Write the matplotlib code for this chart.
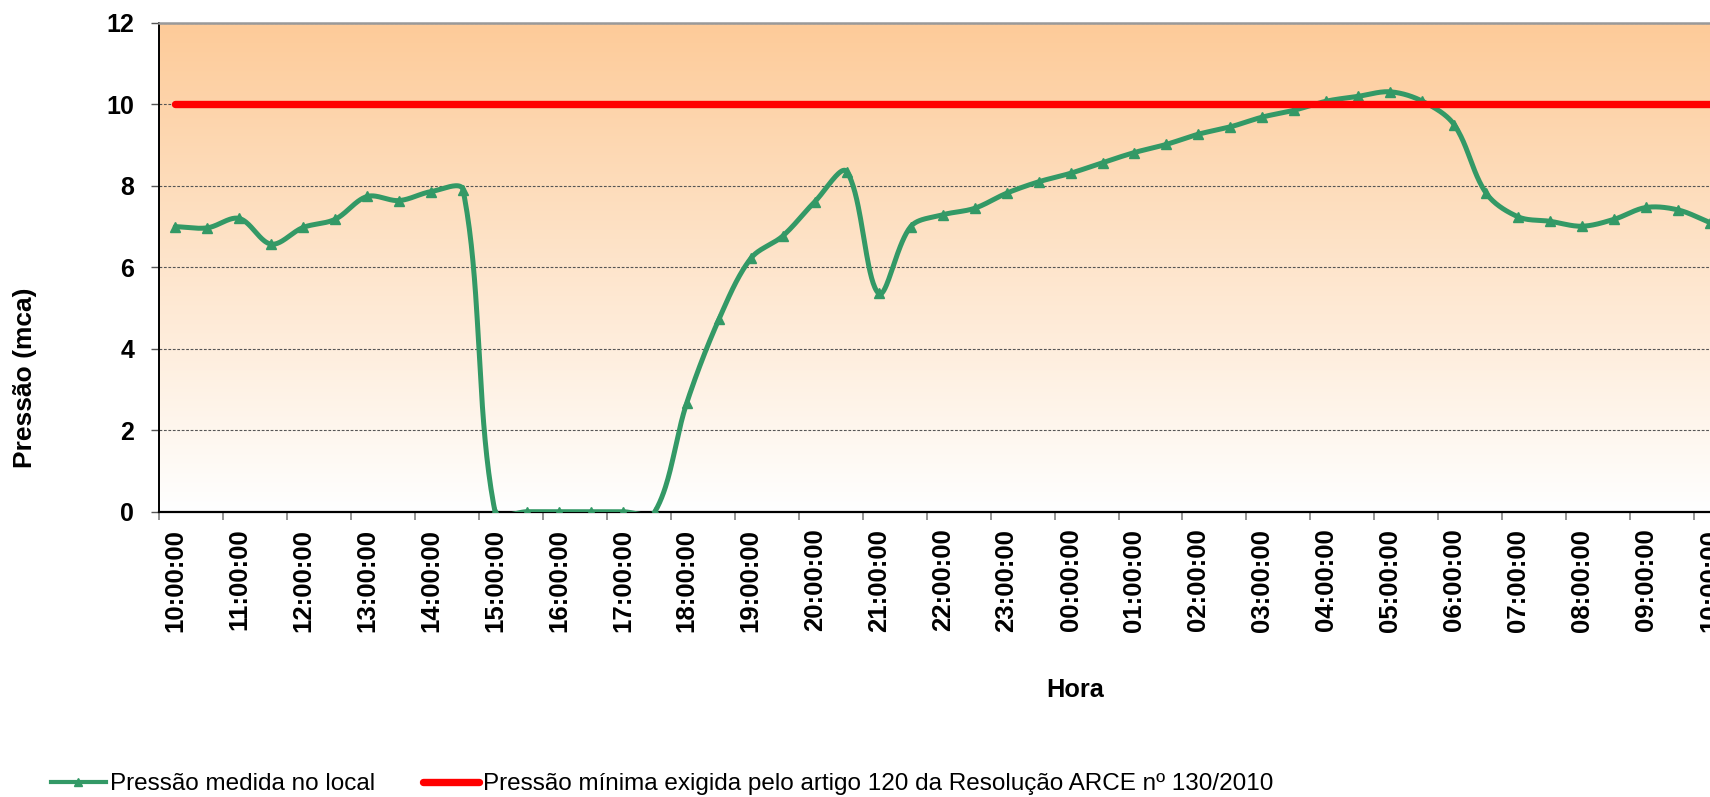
import numpy as np
import matplotlib
matplotlib.use("Agg")
import matplotlib.pyplot as plt
from matplotlib.lines import Line2D

# ---------------- data ----------------
hour_labels = ["10:00:00", "11:00:00", "12:00:00", "13:00:00", "14:00:00",
               "15:00:00", "16:00:00", "17:00:00", "18:00:00", "19:00:00",
               "20:00:00", "21:00:00", "22:00:00", "23:00:00", "00:00:00",
               "01:00:00", "02:00:00", "03:00:00", "04:00:00", "05:00:00",
               "06:00:00", "07:00:00", "08:00:00", "09:00:00", "10:00:00"]

# measured pressure every 30 minutes (mca)
pressao = [7.00, 6.97, 7.20, 6.57, 6.98, 7.18, 7.74, 7.64, 7.86, 7.90,
           0.00, 0.00, 0.00, 0.00, 0.00, 0.00,
           2.68, 4.72, 6.22, 6.77, 7.61, 8.35, 5.36, 7.00, 7.29, 7.45,
           7.82, 8.10, 8.31, 8.57, 8.82, 9.02, 9.27, 9.45, 9.69, 9.86,
           10.08, 10.20, 10.31, 10.08, 9.50, 7.82,
           7.24, 7.13, 7.01, 7.18, 7.47, 7.41, 7.10]

pressao_minima = 10.0
y_ticks = [0, 2, 4, 6, 8, 10, 12]

label_medida = "Pressão medida no local"
label_minima = "Pressão mínima exigida pelo artigo 120 da Resolução ARCE nº 130/2010"

# ---------------- style ----------------
GREEN = "#339966"
RED = "#FF0000"
FONT = "Liberation Sans"
plt.rcParams["font.family"] = [FONT, "DejaVu Sans"]

W, H = 1710, 797
fig = plt.figure(figsize=(W / 100, H / 100), dpi=100)
ax_left, ax_right = 159.3, 1726.0
ax_top, ax_bot = 23.0, 511.7
ax = fig.add_axes([ax_left / W, 1 - ax_bot / H, (ax_right - ax_left) / W, (ax_bot - ax_top) / H])

n = len(pressao)
x = np.arange(n)
ax.set_xlim(-0.5, n - 0.5)
ax.set_ylim(0, 12)

# gradient background
grad = np.linspace(0, 1, 256).reshape(-1, 1)
top_c = np.array([253, 203, 153]) / 255.0
bot_c = np.array([255, 255, 255]) / 255.0
img = bot_c[None, None, :] * (1 - grad[:, :, None]) + top_c[None, None, :] * grad[:, :, None]
ax.imshow(img, extent=[-0.5, n - 0.5, 0, 12], origin="lower", aspect="auto", zorder=0)

# grid
ax.set_yticks(y_ticks)
ax.yaxis.grid(True, linestyle=(0, (2.5, 1.5)), color="#555555", linewidth=0.8, zorder=1)
ax.set_axisbelow(True)

# smooth curve (Excel-like Bezier smoothing computed in display space)
pts = ax.transData.transform(np.column_stack([x, pressao]))
curve = []
for i in range(n - 1):
    p0 = pts[i - 1] if i > 0 else pts[i]
    p1 = pts[i]
    p2 = pts[i + 1]
    p3 = pts[i + 2] if i + 2 < n else pts[i + 1]
    d01 = np.hypot(*(p1 - p0))
    d12 = np.hypot(*(p2 - p1))
    d23 = np.hypot(*(p3 - p2))
    f1 = d12 / (3 * (d01 + d12)) if (d01 + d12) > 0 else 0
    f2 = d12 / (3 * (d12 + d23)) if (d12 + d23) > 0 else 0
    c1 = p1 + (p2 - p0) * f1
    c2 = p2 - (p3 - p1) * f2
    t = np.linspace(0, 1, 40)[:, None]
    seg = ((1 - t) ** 3) * p1 + 3 * ((1 - t) ** 2) * t * c1 + 3 * (1 - t) * t ** 2 * c2 + t ** 3 * p2
    curve.append(seg if i == 0 else seg[1:])
curve = np.vstack(curve)
curve_data = ax.transData.inverted().transform(curve)

ax.plot(curve_data[:, 0], curve_data[:, 1], color=GREEN, lw=3.6, zorder=3,
        solid_joinstyle="round", solid_capstyle="round")
ax.plot(x, pressao, linestyle="none", marker="^", markersize=7.5, color=GREEN, zorder=4)

# minimum pressure line
ax.plot(x, [pressao_minima] * n, color=RED, lw=5.3, solid_capstyle="round", zorder=5)

# x axis ticks: labels at each full hour (category centers), tick marks between categories
label_pos = np.arange(0, n, 2)
ax.set_xticks(label_pos)
ax.set_xticklabels(hour_labels, rotation=90, fontsize=18.5, fontweight="bold", va="top")
ax.tick_params(axis="x", which="major", length=0, pad=12.2)
ax.set_xticks(label_pos - 0.5, minor=True)
ax.tick_params(axis="x", which="minor", length=5.5, width=1.2, color="#808080", direction="out")

# y axis
ax.set_yticklabels([str(v) for v in y_ticks], fontsize=18, fontweight="bold")
ax.tick_params(axis="y", length=6, width=1.0, color="#555555", pad=12)

# spines
ax.spines["top"].set_color("#999999")
ax.spines["top"].set_linewidth(1.8)
ax.spines["left"].set_color("black")
ax.spines["left"].set_linewidth(1.4)
ax.spines["bottom"].set_color("black")
ax.spines["bottom"].set_linewidth(1.6)
ax.spines["right"].set_visible(False)

# axis titles
fig.text(25 / W, 1 - 378 / H, "Pressão (mca)", rotation=90, ha="center", va="center",
         fontsize=19, fontweight="bold")
fig.text(1075.5 / W, 1 - 697 / H, "Hora", ha="center", va="baseline",
         fontsize=18.2, fontweight="bold")

# legend
h1 = Line2D([], [], color=GREEN, lw=3.0, marker="^", markersize=6)
h2 = Line2D([], [], color=RED, lw=5.3, solid_capstyle="round")
fig.legend([h1, h2], [label_medida, label_minima], loc="center left",
           bbox_to_anchor=(50.7 / W, 1 - 784 / H), bbox_transform=fig.transFigure,
           ncol=2, frameon=False, fontsize=17.5, handlelength=2.27, handletextpad=0.16,
           columnspacing=2.0, borderpad=0, borderaxespad=0, numpoints=1)

fig.savefig("out.png", dpi=100)
